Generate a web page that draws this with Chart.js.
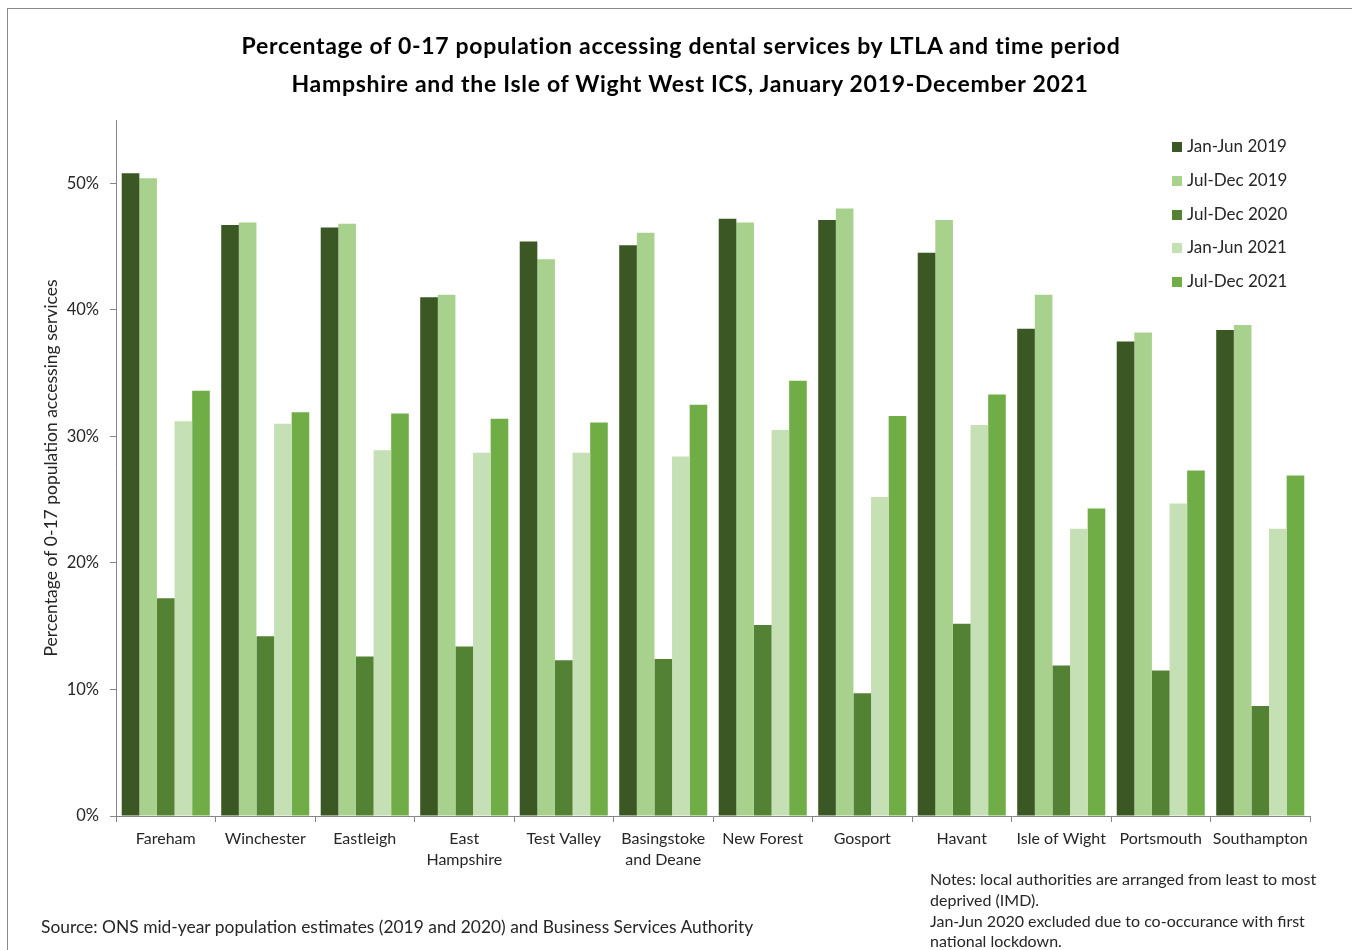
<!DOCTYPE html>
<html>
<head>
<meta charset="utf-8">
<script src="https://cdn.jsdelivr.net/npm/chart.js@4.4.0/dist/chart.umd.min.js"></script>
<style>
  html, body { margin: 0; padding: 0; background: #fff; overflow: hidden; }
  body { width: 1352px; height: 950px; position: relative; font-family: Lato, "Open Sans", sans-serif; color: #262626; }
  #frame { position: absolute; left: 7px; top: 8px; width: 2000px; height: 2000px; border-left: 1px solid #8a8a8a; border-top: 1px solid #8a8a8a; }
  #wrap { position: absolute; left: 0; top: 0; width: 1352px; height: 950px; }
  .title { position: absolute; font-weight: bold; font-size: 23px; letter-spacing: 0.7px; color: #000; white-space: nowrap; transform: translateX(-50%); }
  #legend { position: absolute; left: 1172px; top: 135px; }
  .leg { height: 33.8px; display: flex; align-items: flex-start; font-size: 17px; white-space: nowrap; }
  .leg span.box { width: 10px; height: 10px; display: inline-block; margin-right: 5px; margin-top: 7px; }
  #source { position: absolute; left: 41px; top: 916px; font-size: 17.4px; white-space: nowrap; }
  #notes { position: absolute; left: 930px; top: 869px; font-size: 16px; line-height: 20.8px; }
</style>
</head>
<body>
<div id="frame"></div>
<div id="wrap"><canvas id="myChart" width="1352" height="950"></canvas></div>
<div class="title" style="left:681px; top:31px;">Percentage of 0-17 population accessing dental services by LTLA and time period</div>
<div class="title" style="left:690px; top:69px;">Hampshire and the Isle of Wight West ICS, January 2019-December 2021</div>
<div id="legend"></div>
<div id="source">Source: ONS mid-year population estimates (2019 and 2020) and Business Services Authority</div>
<div id="notes">Notes: local authorities are arranged from least to most<br>deprived (IMD).<br>Jan-Jun 2020 excluded due to co-occurance with first<br>national lockdown.</div>
<script>
// categories (LTLAs, least to most deprived)
var areas = ['Fareham', 'Winchester', 'Eastleigh', ['East', 'Hampshire'], 'Test Valley',
    ['Basingstoke', 'and Deane'], 'New Forest', 'Gosport', 'Havant', 'Isle of Wight', 'Portsmouth', 'Southampton'];

// % of 0-17 population accessing dental services
var janJun2019 = [50.8, 46.7, 46.5, 41.0, 45.4, 45.1, 47.2, 47.1, 44.5, 38.5, 37.5, 38.4];
var julDec2019 = [50.4, 46.9, 46.8, 41.2, 44.0, 46.1, 46.9, 48.0, 47.1, 41.2, 38.2, 38.8];
var julDec2020 = [17.2, 14.2, 12.6, 13.4, 12.3, 12.4, 15.1, 9.7, 15.2, 11.9, 11.5, 8.7];
var janJun2021 = [31.2, 31.0, 28.9, 28.7, 28.7, 28.4, 30.5, 25.2, 30.9, 22.7, 24.7, 22.7];
var julDec2021 = [33.6, 31.9, 31.8, 31.4, 31.1, 32.5, 34.4, 31.6, 33.3, 24.3, 27.3, 26.9];

var seriesNames = ['Jan-Jun 2019', 'Jul-Dec 2019', 'Jul-Dec 2020', 'Jan-Jun 2021', 'Jul-Dec 2021'];
var seriesColors = ['#3a5724', '#a9d18e', '#548235', '#c5e0b4', '#70ad47'];

// y ticks shown (axis goes to 55 but label stops at 50)
var yTicks = [0, 10, 20, 30, 40, 50];
var yMax = 55;

var seriesData = [janJun2019, julDec2019, julDec2020, janJun2021, julDec2021];
var datasets = [];
for (let i = 0; i < seriesNames.length; i++) {
    datasets.push({
        label: seriesNames[i],
        data: seriesData[i],
        backgroundColor: seriesColors[i],
        borderWidth: 0,
        categoryPercentage: 0.885,
        barPercentage: 1.0
    });
}

var axisGrey = '#868686';
var txt = '#262626';

var chart = new Chart('myChart', {
    type: 'bar',
    data: { labels: areas, datasets: datasets },
    options: {
        responsive: false,
        animation: false,
        layout: { padding: { left: 41, top: 120, right: 42, bottom: 50 } },
        plugins: {
            legend: { display: false },
            tooltip: { enabled: false },
            title: { display: false }
        },
        scales: {
            x: {
                grid: { drawOnChartArea: false, drawTicks: true, tickLength: 6, color: axisGrey, offset: true },
                border: { display: true, color: axisGrey, width: 1 },
                ticks: { color: txt, font: { family: 'Lato', size: 16, lineHeight: 1.32 }, padding: 6, maxRotation: 0, autoSkip: false },
                afterFit: function (s) { s.height = 84; }
            },
            y: {
                min: 0,
                max: yMax,
                afterBuildTicks: function (s) {
                    s.ticks = yTicks.map(function (v) { return { value: v }; });
                },
                grid: { drawOnChartArea: false, drawTicks: true, tickLength: 6, color: axisGrey },
                border: { display: true, color: axisGrey, width: 1 },
                ticks: {
                    color: txt, font: { family: 'Lato', size: 16.5 }, padding: 11,
                    callback: function (v) { return v + '%'; }
                },
                title: {
                    display: true,
                    text: 'Percentage of 0-17 population accessing services',
                    color: txt, font: { family: 'Lato', size: 17.5 }, padding: 0
                },
                afterFit: function (s) { s.width = 75; }
            }
        }
    }
});

// legend built from the chart's datasets
var leg = document.getElementById('legend');
chart.data.datasets.forEach(function (d) {
    var row = document.createElement('div');
    row.className = 'leg';
    row.innerHTML = '<span class="box" style="background:' + d.backgroundColor + '"></span>' + d.label;
    leg.appendChild(row);
});
</script>
</body>
</html>
